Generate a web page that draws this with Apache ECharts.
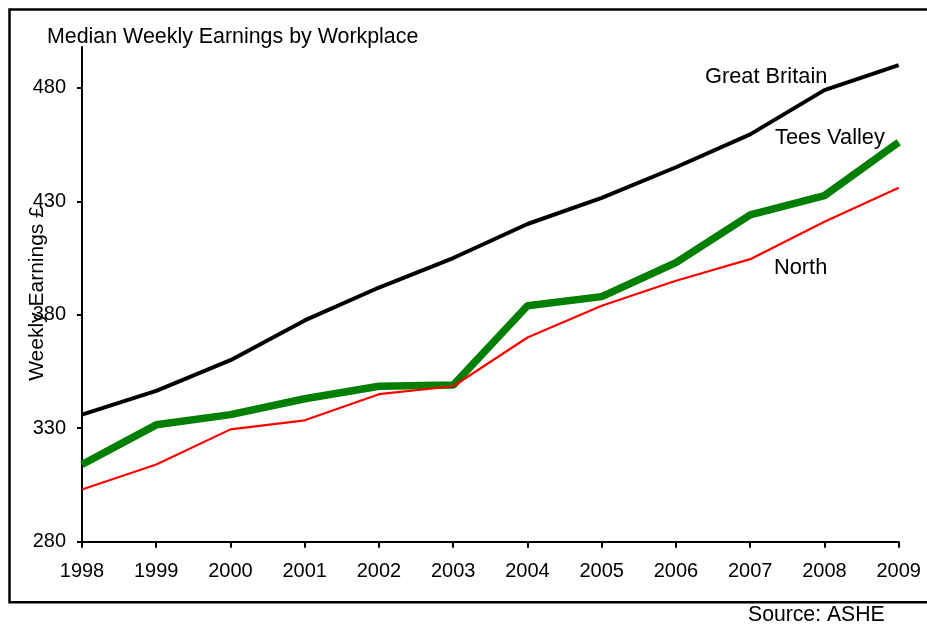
<!DOCTYPE html>
<html>
<head>
<meta charset="utf-8">
<script src="https://cdn.jsdelivr.net/npm/echarts@6/dist/echarts.min.js"></script>
<style>
  html, body { margin: 0; padding: 0; background: #fff; }
  #chart { width: 927px; height: 624px; }
</style>
</head>
<body>
<div id="chart"></div>
<script>
// Median weekly earnings (£) by workplace, 1998–2009
var years = ['1998','1999','2000','2001','2002','2003','2004','2005','2006','2007','2008','2009'];
var greatBritain = [336, 346.5, 360, 377.5, 392, 405, 420, 431.5, 445, 459.5, 479, 490];
var teesValley   = [314, 331.5, 336, 343, 348.5, 349, 384, 388, 403, 424, 432.5, 456];
var north        = [303, 314, 329.5, 333.5, 345, 348.5, 370, 384, 395, 404.5, 421, 436];
var yTicks       = [280, 330, 380, 430, 480];

var FONT = '"Liberation Sans", Arial, sans-serif';

var chart = echarts.init(document.getElementById('chart'), null, { renderer: 'canvas' });

chart.setOption({
  backgroundColor: '#ffffff',
  animation: false,
  grid: { left: 82, right: 28.3, top: 47, bottom: 82.3, containLabel: false },
  xAxis: {
    type: 'category',
    data: years,
    boundaryGap: false,
    axisLine: { lineStyle: { color: '#000', width: 2 } },
    axisTick: { alignWithLabel: true, length: 6, lineStyle: { color: '#000', width: 2 } },
    axisLabel: { color: '#000', fontFamily: FONT, fontSize: 20, margin: 20 },
    splitLine: { show: false }
  },
  yAxis: {
    type: 'value',
    min: 280,
    max: 498,
    interval: 50,
    axisLine: { show: true, lineStyle: { color: '#000', width: 2 } },
    axisTick: { show: true, length: 5, customValues: yTicks, lineStyle: { color: '#000', width: 2 } },
    axisLabel: { color: '#000', fontFamily: FONT, fontSize: 20, margin: 16, customValues: yTicks },
    splitLine: { show: false }
  },
  series: [
    {
      name: 'Great Britain', type: 'line', data: greatBritain,
      symbol: 'none', lineStyle: { color: '#000000', width: 4 }, z: 2
    },
    {
      name: 'Tees Valley', type: 'line', data: teesValley,
      symbol: 'none', lineStyle: { color: '#007f00', width: 7.5 }, z: 3
    },
    {
      name: 'North', type: 'line', data: north,
      symbol: 'none', lineStyle: { color: '#ff0000', width: 2.2 }, z: 4
    }
  ],
  graphic: [
    // outer frame
    { type: 'rect', silent: true, z: 0,
      shape: { x: 9.5, y: 9.5, width: 940, height: 592.7 },
      style: { fill: 'none', stroke: '#000', lineWidth: 2.5 } },
    { type: 'text', left: 47, top: 27, z: 10,
      style: { text: 'Median Weekly Earnings by Workplace', font: '21.4px ' + FONT, fill: '#000' } },
    { type: 'text', x: 37, y: 293.5, rotation: Math.PI / 2, z: 10,
      style: { text: 'Weekly Earnings £', font: '21px ' + FONT, fill: '#000',
               textAlign: 'center', textVerticalAlign: 'middle' } },
    { type: 'text', left: 705, top: 66, z: 10,
      style: { text: 'Great Britain', font: '21.8px ' + FONT, fill: '#000' } },
    { type: 'text', left: 775, top: 127, z: 10,
      style: { text: 'Tees Valley', font: '21.8px ' + FONT, fill: '#000' } },
    { type: 'text', left: 774, top: 257, z: 10,
      style: { text: 'North', font: '21.8px ' + FONT, fill: '#000' } },
    { type: 'text', left: 748, top: 605, z: 10,
      style: { text: 'Source: ASHE', font: '21.2px ' + FONT, fill: '#000' } }
  ]
});
</script>
</body>
</html>
